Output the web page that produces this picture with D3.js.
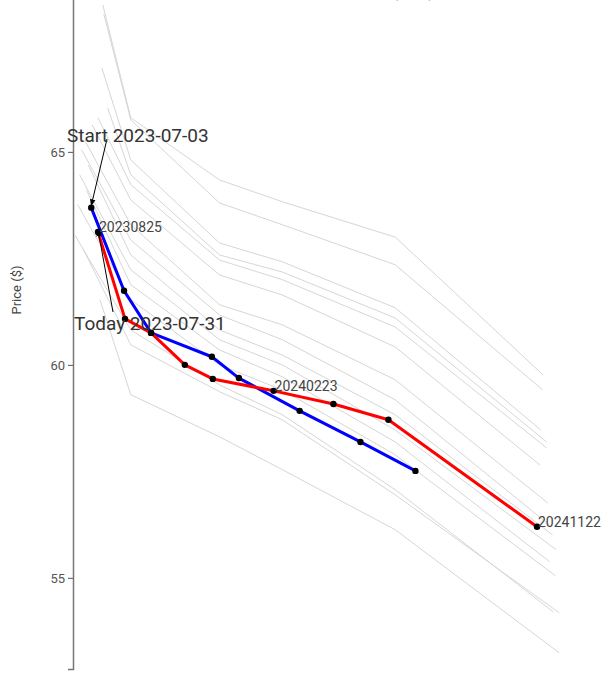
<!DOCTYPE html>
<html>
<head>
<meta charset="utf-8">
<script src="https://cdn.jsdelivr.net/npm/d3@7"></script>
<style>
  html, body { margin: 0; padding: 0; background: #fff; }
  svg { display: block; font-family: Roboto, "Open Sans", sans-serif; }
</style>
</head>
<body>
<svg id="chart" width="613" height="677"></svg>
<script>
// ---------------- DATA ----------------
const startDate = "2023-07-03";
const todayDate = "2023-07-31";

const startDates = ["2023-08-18","2023-09-21","2023-10-19","2023-12-21","2024-01-18","2024-03-21","2024-05-23","2024-07-19"];
const startPrices = [63.69, 61.74, 60.75, 60.19, 59.69, 58.92, 58.19, 57.51];

const todayDates = ["2023-08-25","2023-09-22","2023-10-19","2023-11-23","2023-12-22","2024-02-23","2024-04-25","2024-06-21","2024-11-22"];
const todayPrices = [63.12, 61.08, 60.75, 60.00, 59.67, 59.39, 59.08, 58.71, 56.20];
const labelledDates = ["2023-08-25","2024-02-23","2024-11-22"];

// history curves (gray): first expiry, shared middle expiries, last expiry
const histFirstDates = ["2023-08-30","2023-08-31","2023-08-29","2023-09-04","2023-08-25","2023-08-19","2023-08-11","2023-08-08","2023-08-15","2023-08-06","2023-08-13","2023-08-04","2023-08-01","2023-08-10","2023-08-27"];
const histMidDates = ["2023-09-28","2023-12-29","2024-03-03","2024-06-28"];
const histLastDates = ["2024-11-28","2024-11-28","2024-11-26","2024-12-02","2024-12-02","2024-11-25","2024-12-03","2024-12-05","2024-12-08","2024-12-12","2024-12-05","2024-12-11","2024-12-09","2024-12-15","2024-12-15"];
const histPrices = [
  [68.45, 65.80, 64.34, 63.83, 63.00, 59.77],
  [68.24, 65.75, 63.80, 63.29, 62.35, 59.41],
  [66.97, 64.81, 62.86, 62.42, 61.34, 58.47],
  [66.03, 64.46, 62.58, 62.18, 61.10, 58.19],
  [65.80, 64.23, 62.46, 62.00, 60.89, 58.05],
  [65.63, 63.87, 62.11, 61.64, 60.42, 57.65],
  [65.28, 63.29, 61.41, 60.94, 59.65, 56.76],
  [65.05, 62.93, 61.17, 60.59, 59.18, 56.24],
  [64.69, 62.58, 60.82, 60.23, 58.83, 56.01],
  [64.46, 62.23, 60.59, 60.00, 58.47, 55.66],
  [64.11, 61.88, 60.35, 59.72, 58.19, 55.38],
  [63.76, 61.53, 60.00, 59.41, 57.89, 55.05],
  [63.05, 60.82, 59.53, 58.83, 57.07, 54.20],
  [62.70, 60.47, 59.37, 58.71, 56.95, 54.18],
  [61.53, 59.30, 58.31, 57.54, 56.13, 53.24]
];

const yTicks = [55, 60, 65];
const titleText = "Term Structure History (USD)";
const yLabel = "Price ($)";

// ---------------- DRAW ----------------
const parse = d3.timeParse("%Y-%m-%d");
const fmt = d3.timeFormat("%Y%m%d");
const svg = d3.select("#chart");

const x = d3.scaleTime()
  .domain([parse("2023-08-25"), parse("2024-11-22")])
  .range([98, 537]);
const y = d3.scaleLinear()
  .domain([52.86, 68.8])
  .range([669, -10]);

const line = d3.line().x(d => x(d.date)).y(d => y(d.price));

// title (mostly above the visible area, as in the reference)
svg.append("text")
  .attr("x", 434).attr("y", -3)
  .attr("text-anchor", "end")
  .attr("font-size", 16).attr("fill", "#333")
  .text(titleText);

// y axis
const yAxis = svg.append("g")
  .attr("transform", "translate(73,0)")
  .call(d3.axisLeft(y).tickValues(yTicks).tickFormat(d3.format("d")).tickSize(5).tickPadding(3));
yAxis.select(".domain").attr("stroke", "#777").attr("stroke-width", 1.5);
yAxis.selectAll(".tick line").attr("stroke", "#555");
yAxis.selectAll(".tick text").attr("fill", "#555").attr("font-size", 13).attr("font-family", "Roboto, sans-serif");

svg.append("text")
  .attr("transform", "translate(21,290) rotate(-90)")
  .attr("text-anchor", "middle")
  .attr("font-size", 13).attr("fill", "#444")
  .text(yLabel);

// gray history curves
const histCurves = histPrices.map((ps, i) => {
  const dates = [histFirstDates[i], ...histMidDates, histLastDates[i]];
  return dates.map((d, j) => ({date: parse(d), price: ps[j]}));
});
svg.append("g").selectAll("path").data(histCurves).join("path")
  .attr("d", line)
  .attr("fill", "none")
  .attr("stroke", "#d6d6d6")
  .attr("stroke-width", 1);

const startCurve = startDates.map((d, i) => ({date: parse(d), price: startPrices[i]}));
const todayCurve = todayDates.map((d, i) => ({date: parse(d), price: todayPrices[i]}));

svg.append("path").datum(startCurve).attr("d", line)
  .attr("fill", "none").attr("stroke", "#0000ff").attr("stroke-width", 3).attr("stroke-linejoin", "round");
svg.append("path").datum(todayCurve).attr("d", line)
  .attr("fill", "none").attr("stroke", "#ff0000").attr("stroke-width", 3).attr("stroke-linejoin", "round");

svg.append("g").selectAll("circle").data(startCurve.concat(todayCurve)).join("circle")
  .attr("cx", d => x(d.date)).attr("cy", d => y(d.price)).attr("r", 3.2).attr("fill", "#000");

// labels on today's curve
svg.append("g").selectAll("text")
  .data(todayCurve.filter(d => labelledDates.includes(d3.timeFormat("%Y-%m-%d")(d.date))))
  .join("text")
  .attr("x", d => x(d.date) + 1).attr("y", d => y(d.price))
  .attr("font-size", 14).attr("fill", "#444")
  .text(d => fmt(d.date));

// annotations with arrows
const defs = svg.append("defs");
defs.append("marker").attr("id", "arrow")
  .attr("viewBox", "0 0 10 10").attr("refX", 9).attr("refY", 5)
  .attr("markerWidth", 7).attr("markerHeight", 7).attr("orient", "auto")
  .append("path").attr("d", "M0,1 L10,5 L0,9 Z").attr("fill", "#000");

function annotate(curve, tx, ty) {
  const p = curve[0];
  const px = x(p.date), py = y(p.price);
  svg.append("line")
    .attr("x1", tx).attr("y1", ty)
    .attr("x2", px).attr("y2", py - 2)
    .attr("stroke", "#000").attr("stroke-width", 1)
    .attr("marker-end", "url(#arrow)");
}
annotate(startCurve, 107, 139);
annotate(todayCurve, 113, 312);

svg.append("text").attr("x", 67).attr("y", 142)
  .attr("font-size", 19).attr("fill", "#333").text("Start " + startDate);
svg.append("text").attr("x", 74).attr("y", 330)
  .attr("font-size", 19).attr("fill", "#333").text("Today " + todayDate);
</script>
</body>
</html>
